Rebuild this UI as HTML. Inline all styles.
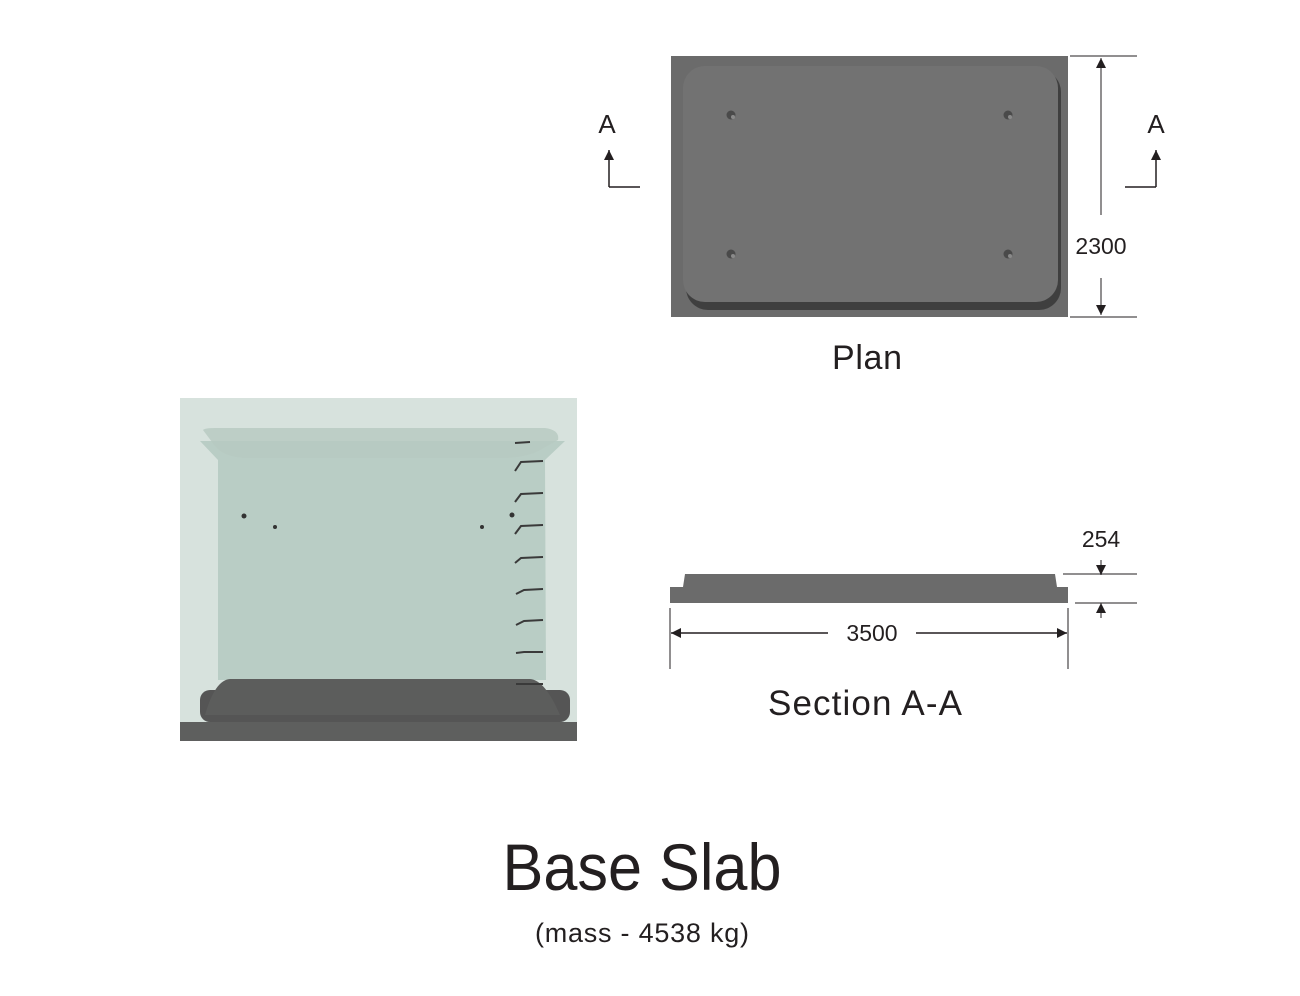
<!DOCTYPE html>
<html><head><meta charset="utf-8"><style>
body{margin:0;background:#fff;width:1300px;height:991px;overflow:hidden;font-family:"Liberation Sans",sans-serif}
</style></head><body>
<svg width="1300" height="991" viewBox="0 0 1300 991" xmlns="http://www.w3.org/2000/svg" font-family="Liberation Sans, sans-serif" fill="#231f20">
<defs>
<marker id="ar" viewBox="0 0 10 10" refX="10" refY="5" markerWidth="12" markerHeight="10" markerUnits="userSpaceOnUse" orient="auto-start-reverse"><path d="M0,0 L10,5 L0,10 z" fill="#231f20"/></marker>
</defs>
<!-- Plan -->
<rect x="671" y="56" width="397" height="261" fill="#6b6b6b"/>
<rect x="686" y="70" width="375" height="240" rx="22" fill="#3f3f3f"/>
<rect x="683" y="66" width="375" height="236" rx="22" fill="#727272"/>
<g fill="#4a4a4a"><circle cx="731" cy="115" r="4.5"/><circle cx="1008" cy="115" r="4.5"/><circle cx="731" cy="254" r="4.5"/><circle cx="1008" cy="254" r="4.5"/></g>
<g fill="#8a8a8a"><circle cx="733" cy="117" r="2"/><circle cx="1010" cy="117" r="2"/><circle cx="733" cy="256" r="2"/><circle cx="1010" cy="256" r="2"/></g>
<g stroke="#231f20" stroke-width="1" fill="none">
<line x1="1070" y1="56" x2="1137" y2="56"/><line x1="1070" y1="317" x2="1137" y2="317"/>
<line x1="1101" y1="215" x2="1101" y2="58" marker-end="url(#ar)"/>
<line x1="1101" y1="278" x2="1101" y2="315" marker-end="url(#ar)"/>
<path d="M609 187 L640 187" stroke-width="1.5"/><line x1="609" y1="187" x2="609" y2="150" stroke-width="1.5" marker-end="url(#ar)"/>
<path d="M1125 187 L1156 187" stroke-width="1.5"/><line x1="1156" y1="187" x2="1156" y2="150" stroke-width="1.5" marker-end="url(#ar)"/>
</g>
<text x="607" y="133" font-size="26" text-anchor="middle">A</text>
<text x="1156" y="133" font-size="26" text-anchor="middle">A</text>
<text x="1101" y="254" font-size="23" text-anchor="middle">2300</text>
<text x="867" y="369" font-size="34" text-anchor="middle" textLength="70">Plan</text>
<!-- 3D view -->
<rect x="180" y="398" width="397" height="343" fill="#d7e2dd"/>
<polygon points="200,441 565,441 545,460 546,680 218,680 218,460" fill="#b9cdc5"/>
<path d="M203,430 Q205,428 215,428 L545,428 Q560,430 558,440 L545,447 Q530,458 500,458 L250,458 Q225,458 215,446 Z" fill="#b6c9c1" opacity="0.8"/>
<rect x="200" y="690" width="370" height="32" rx="10" fill="#555"/>
<path d="M230,679 L530,679 Q545,680 560,715 L205,715 Q215,680 230,679 Z" fill="#5c5d5c"/>
<rect x="180" y="722" width="397" height="19" fill="#5e5f5e"/>
<g fill="#333"><circle cx="244" cy="516" r="2.5"/><circle cx="275" cy="527" r="2"/><circle cx="482" cy="527" r="2"/><circle cx="512" cy="515" r="2.5"/></g>
<g stroke="#3a3a3a" stroke-width="2" fill="none">
<path d="M515,443 L530,442"/><path d="M515,471 L521,462 L543,461"/><path d="M515,502 L521,494 L543,493"/><path d="M515,534 L521,526 L543,525"/><path d="M515,563 L521,558 L543,557"/><path d="M516,594 L524,590 L543,589"/><path d="M516,625 L524,621 L543,620"/><path d="M516,653 L524,652 L543,652"/><path d="M516,684 L543,684"/>
</g>
<!-- Section -->
<polygon points="685,574 1055,574 1057,587 1068,587 1068,603 670,603 670,587 683,587" fill="#6b6b6b"/>
<g stroke="#231f20" stroke-width="1" fill="none">
<line x1="1063" y1="574" x2="1137" y2="574"/><line x1="1075" y1="603" x2="1137" y2="603"/>
<line x1="1101" y1="560" x2="1101" y2="575" marker-end="url(#ar)"/>
<line x1="1101" y1="618" x2="1101" y2="603" marker-end="url(#ar)"/>
<line x1="670" y1="608" x2="670" y2="669"/><line x1="1068" y1="608" x2="1068" y2="669"/>
<line x1="828" y1="633" x2="671" y2="633" marker-end="url(#ar)" stroke-width="1.5"/>
<line x1="916" y1="633" x2="1067" y2="633" marker-end="url(#ar)" stroke-width="1.5"/>
</g>
<text x="1101" y="547" font-size="23" text-anchor="middle">254</text>
<text x="872" y="641" font-size="23" text-anchor="middle">3500</text>
<text x="865" y="715" font-size="35" text-anchor="middle" textLength="194">Section A-A</text>
<text x="642" y="890" font-size="66" text-anchor="middle" textLength="279" lengthAdjust="spacingAndGlyphs">Base Slab</text>
<text x="642" y="942" font-size="27" text-anchor="middle" textLength="214">(mass - 4538 kg)</text>
</svg>
</body></html>
